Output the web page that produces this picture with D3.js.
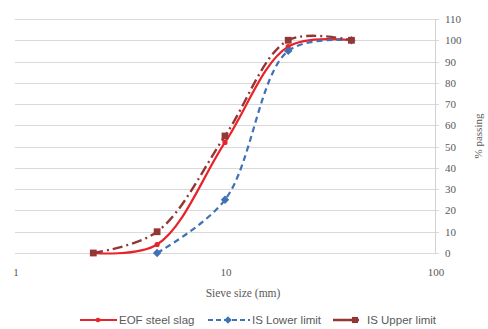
<!DOCTYPE html>
<html>
<head>
<meta charset="utf-8">
<script src="https://cdn.jsdelivr.net/npm/d3@7"></script>
<style>
  body { margin: 0; background: #fff; }
  svg { display: block; }
</style>
</head>
<body>
<div id="chart"></div>
<script>
// sieve sizes (mm) and % passing
const sieveSizes = [2.36, 4.75, 10, 20, 40]
const eofSlag = [0, 4, 52, 97, 100]
const isLower = [null, 0, 25, 95, 100]
const isUpper = [0, 10, 55, 100, 100]
const yTicks = [0, 10, 20, 30, 40, 50, 60, 70, 80, 90, 100, 110]
const xTicks = [1, 10, 100]

const series = [
  {name: 'EOF steel slag', values: eofSlag, color: '#e8232b', dash: null, marker: 'dot', width: 2.2},
  {name: 'IS Lower limit', values: isLower, color: '#3f72b4', dash: '6,4', marker: 'diamond', width: 2.2},
  {name: 'IS Upper limit', values: isUpper, color: '#943634', dash: '10,4,2,4', marker: 'square', width: 2.4}
]

const W = 488
const H = 329
const plot = {left: 15, right: 435, top: 19, bottom: 253}

const svg = d3.select('#chart').append('svg')
  .attr('width', W)
  .attr('height', H)

const x = d3.scaleLog().domain([1, 100]).range([plot.left, plot.right])
const y = d3.scaleLinear().domain([0, 110]).range([plot.bottom, plot.top])

// gridlines
svg.append('g').selectAll('line')
  .data(yTicks)
  .enter().append('line')
  .attr('x1', plot.left)
  .attr('x2', plot.right + 4)
  .attr('y1', d => Math.round(y(d)) + 0.5)
  .attr('y2', d => Math.round(y(d)) + 0.5)
  .style('stroke', '#d9d9d9')
  .style('stroke-width', 1)

// right axis line
svg.append('line')
  .attr('x1', plot.right + 0.5)
  .attr('x2', plot.right + 0.5)
  .attr('y1', y(110))
  .attr('y2', y(0))
  .style('stroke', '#d0d0d0')

const tickFont = '"Liberation Serif", "DejaVu Serif", serif'

svg.append('g').selectAll('text')
  .data(yTicks)
  .enter().append('text')
  .attr('x', plot.right + 10)
  .attr('y', d => y(d) + 4)
  .text(d => d)
  .style('font-family', tickFont)
  .style('font-size', '11px')
  .style('fill', '#595959')

svg.append('g').selectAll('text')
  .data(xTicks)
  .enter().append('text')
  .attr('x', d => x(d) + 1)
  .attr('y', 276)
  .attr('text-anchor', 'middle')
  .text(d => d)
  .style('font-family', tickFont)
  .style('font-size', '11px')
  .style('fill', '#595959')

svg.append('text')
  .attr('x', 243)
  .attr('y', 297)
  .attr('text-anchor', 'middle')
  .text('Sieve size (mm)')
  .style('font-family', tickFont)
  .style('font-size', '11.5px')
  .style('fill', '#595959')

svg.append('text')
  .attr('transform', 'translate(482,' + ((plot.top + plot.bottom) / 2) + ') rotate(-90)')
  .attr('text-anchor', 'middle')
  .text('% passing')
  .style('font-family', tickFont)
  .style('font-size', '11px')
  .style('fill', '#595959')

const line = d3.line()
  .defined(d => d.v !== null)
  .x(d => x(d.s))
  .y(d => y(d.v))
  .curve(d3.curveCatmullRom.alpha(0.5))

function drawMarker (g, type, cx, cy, color, scale) {
  let k = scale || 1
  if (type === 'dot') {
    g.append('circle').attr('cx', cx).attr('cy', cy).attr('r', 2.6 * k).style('fill', color)
  } else if (type === 'diamond') {
    let r = 4.2 * k
    g.append('path')
      .attr('d', `M${cx},${cy - r}L${cx + r},${cy}L${cx},${cy + r}L${cx - r},${cy}Z`)
      .style('fill', color)
  } else {
    let r = 3.4 * k
    g.append('rect').attr('x', cx - r).attr('y', cy - r).attr('width', 2 * r).attr('height', 2 * r)
      .style('fill', color)
  }
}

series.forEach(s => {
  let pts = sieveSizes.map((d, i) => ({s: d, v: s.values[i]})).filter(d => d.v !== null)
  let g = svg.append('g')
  g.append('path')
    .datum(pts)
    .attr('d', line)
    .style('fill', 'none')
    .style('stroke', s.color)
    .style('stroke-width', s.width)
    .style('stroke-dasharray', s.dash)
  pts.forEach(p => drawMarker(g, s.marker, x(p.s), y(p.v), s.color))
})

// legend
const legendFont = '"Liberation Sans", "DejaVu Sans", sans-serif'
const legend = [
  {x: 80, len: 37, mark: 18, dash: null, textX: 39},
  {x: 208, len: 42, mark: 20, dash: '5,3', textX: 44},
  {x: 333, len: 30, mark: 22, dash: '20,4,2,40', textX: 34}
]
series.forEach((s, i) => {
  let l = legend[i]
  let g = svg.append('g').attr('transform', 'translate(' + l.x + ',320)')
  g.append('line')
    .attr('x1', 0).attr('x2', l.len).attr('y1', 0).attr('y2', 0)
    .style('stroke', s.color)
    .style('stroke-width', s.width)
    .style('stroke-dasharray', l.dash)
  drawMarker(g, s.marker, l.mark, 0, s.color, 0.9)
  g.append('text')
    .attr('x', l.textX)
    .attr('y', 4)
    .text(s.name)
    .style('font-family', legendFont)
    .style('font-size', '11.5px')
    .style('fill', '#595959')
})
</script>
</body>
</html>
